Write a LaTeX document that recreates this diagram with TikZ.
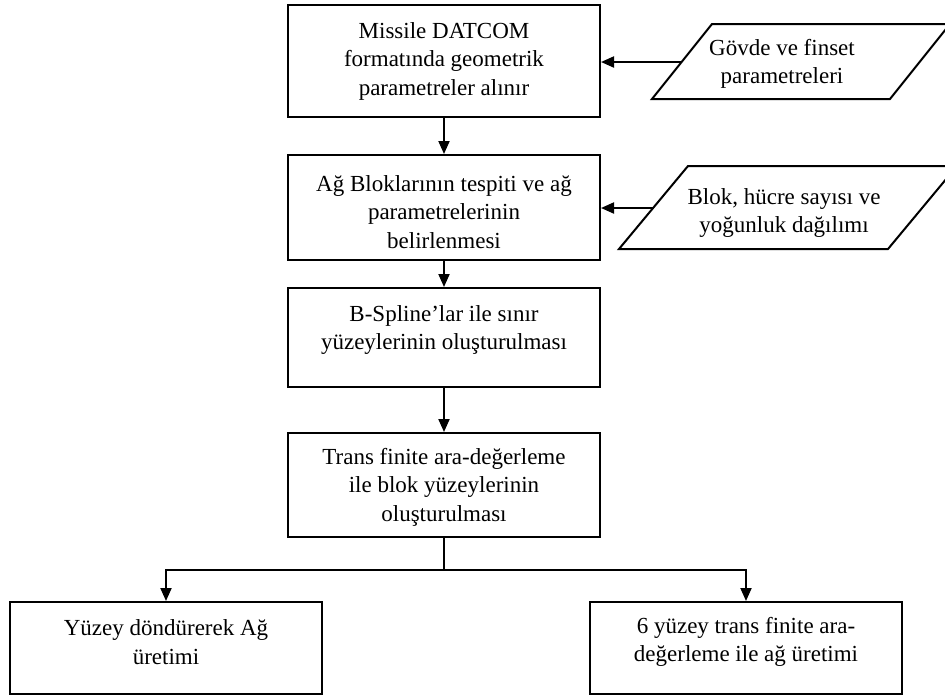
\documentclass[tikz,border=0pt]{standalone}
\usepackage{fontspec}
\setmainfont{Liberation Serif}
\usetikzlibrary{arrows.meta}
\begin{document}
\begin{tikzpicture}[x=1pt,y=-1pt,
  box/.style={draw,line width=2pt,inner sep=0pt},
  txt/.style={align=center,font=\fontsize{23}{28.5}\selectfont,inner sep=0pt},
  arr/.style={line width=2pt,-{Triangle[length=13pt,width=11pt]}},
  ln/.style={line width=2pt}]
\useasboundingbox (0,0) rectangle (945,697);
% process boxes
\node[box,minimum width=312pt,minimum height=112pt] (b1) at (444,61) {};
\node[box,minimum width=312pt,minimum height=105pt] (b2) at (444,207.5) {};
\node[box,minimum width=312pt,minimum height=99pt] (b3) at (444,337.5) {};
\node[box,minimum width=312pt,minimum height=104pt] (b4) at (444,485) {};
\node[box,minimum width=312pt,minimum height=92pt] (b5) at (166,648) {};
\node[box,minimum width=312pt,minimum height=92pt] (b6) at (746,648) {};
% texts
\node[txt] (t1) at (444,61) {Missile DATCOM\\formatında geometrik\\parametreler alınır};
\node[txt] (t2) at (444,212) {Ağ Bloklarının tespiti ve ağ\\parametrelerinin\\belirlenmesi};
\node[txt] (t3) at (444,330) {B-Spline’lar ile sınır\\yüzeylerinin oluşturulması};
\node[txt] (t4) at (444,487) {Trans finite ara-değerleme\\ile blok yüzeylerinin\\oluşturulması};
\node[txt] (t5) at (166,642) {Yüzey döndürerek Ağ\\üretimi};
\node[txt] (t6) at (746,642) {6 yüzey trans finite ara-\\değerleme ile ağ üretimi};
% input parallelograms
\draw[ln] (652,99) -- (712,24) -- (950,24) -- (890,99) -- cycle;
\coordinate (p1) at (682,62);
\node[txt] (tp1) at (782,64) {Gövde ve finset\\parametreleri};
\draw[ln] (619,249) -- (688,166) -- (957,166) -- (888,249) -- cycle;
\coordinate (p2) at (653,208);
\node[txt] (tp2) at (784,213) {Blok, hücre sayısı ve\\yoğunluk dağılımı};
% connectors
\draw[arr] (p1) -- (p1 -| b1.east);
\draw[arr] (p2) -- (p2 -| b2.east);
\draw[arr] (b1.south) -- (b2.north);
\draw[arr] (b2.south) -- (b3.north);
\draw[arr] (b3.south) -- (b4.north);
\coordinate (sp) at (444,570);
\draw[ln] (b4.south) -- (sp);
\draw[arr] (sp) -| (b5.north);
\draw[arr] (sp) -| (b6.north);
\end{tikzpicture}
\end{document}
